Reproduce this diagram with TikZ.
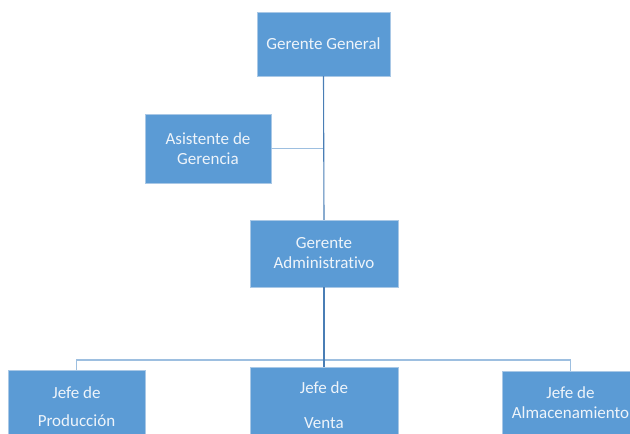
\documentclass[tikz,border=0pt]{standalone}
\usepackage{fontspec}
\setmainfont[Ligatures=NoCommon]{Carlito}
\usepackage{tikz}

\definecolor{boxfill}{HTML}{5B9BD5}
\definecolor{boxline}{HTML}{A9C8E6}
\definecolor{boxtext}{HTML}{EEF4FA}
\definecolor{trunkline}{HTML}{4A7EB5}
\definecolor{busline}{HTML}{9DBFE0}

\begin{document}
\begin{tikzpicture}[x=1pt, y=-1pt, thin,
    box/.style = {draw=boxline, fill=boxfill, text=boxtext, align=center,
                  font=\fontsize{17}{20}\selectfont, inner sep=2pt},
    trunk/.style = {draw=trunkline, line width=1.1pt},
    bus/.style = {draw=busline, line width=1.6pt}]
            \useasboundingbox (0,0) rectangle (630,434);
            \node[box, minimum width=133, minimum height=64] (gg) at (323.5,44) {Gerente General};
            \node[box, minimum width=126, minimum height=69] (ag) at (208,148.5) {Asistente de\\Gerencia};
            \node[box, minimum width=148, minimum height=67] (ga) at (324,253.5) {Gerente\\Administrativo};
            \node[box, anchor=north, minimum width=137, minimum height=72] (jp) at (76.5,370) {Jefe de\\[8pt]Producción};
            \node[box, anchor=north, minimum width=148, minimum height=75] (jv) at (324,367) {Jefe de\\[15pt]Venta};
            \node[box, anchor=north, minimum width=137, minimum height=63] (ja) at (570.5,371) {Jefe de\\Almacenamiento};
            \coordinate (bus) at (324,360);
            \draw[bus] (ag.east) -- (ag.east -| gg.south);
            \draw[bus] (jp.north) |- (bus) -| (ja.north);
            \draw[trunk] (gg.south) -- (ga.north);
            \draw[trunk] (ga.south) -- (jv.north);
        \end{tikzpicture}
\end{document}
